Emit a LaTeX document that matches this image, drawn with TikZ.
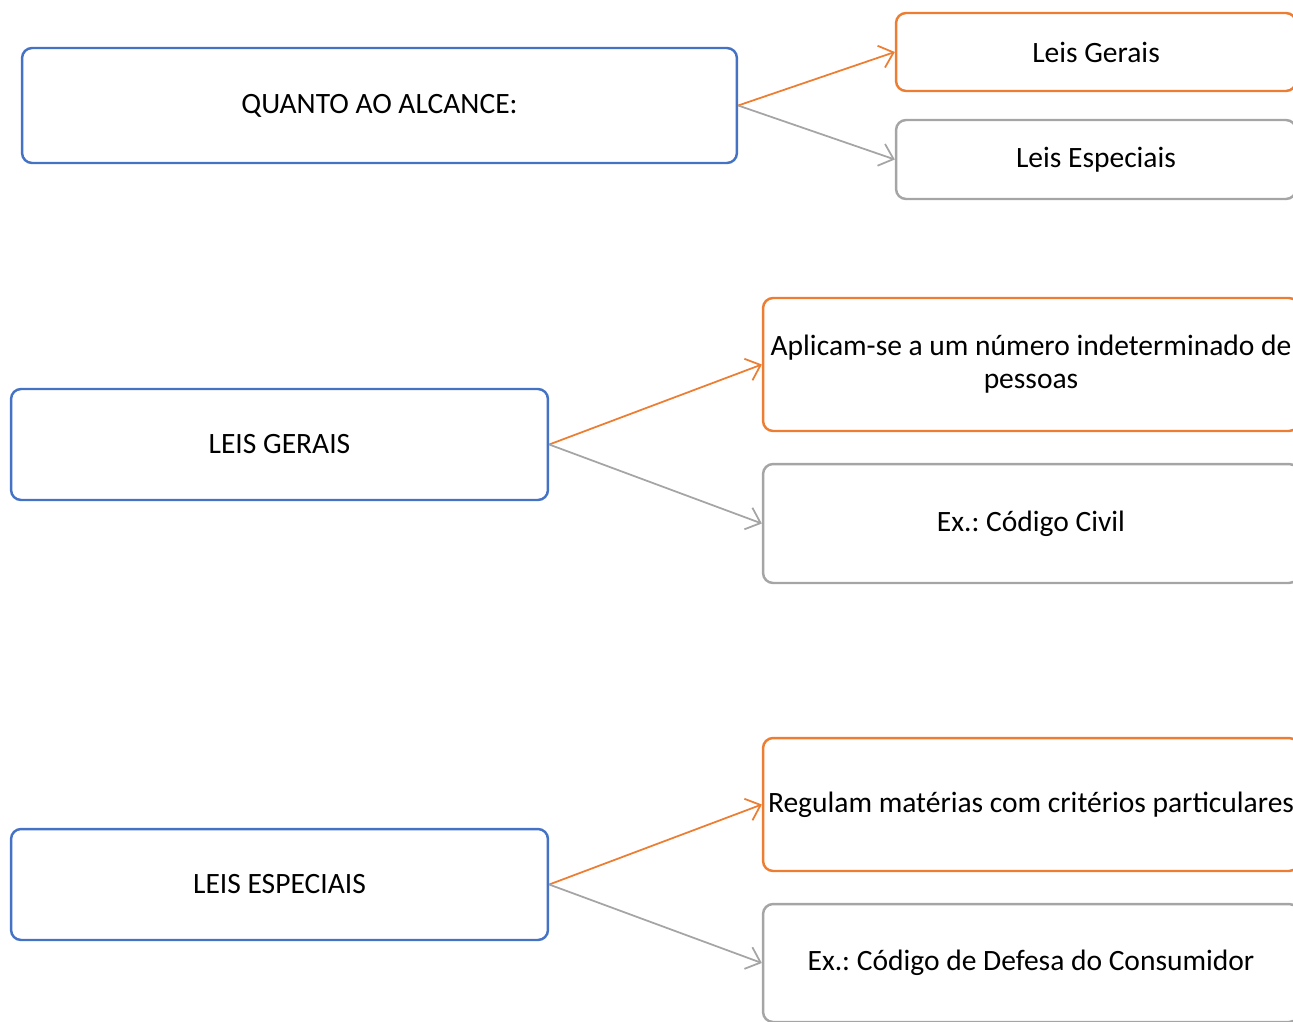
\documentclass[tikz,border=0pt]{standalone}
\usepackage{fontspec}
\setmainfont{Carlito}
\usetikzlibrary{positioning,arrows.meta}

\definecolor{boxblue}{HTML}{4472C4}
\definecolor{boxorange}{HTML}{ED7D31}
\definecolor{boxgray}{HTML}{A5A5A5}

\frenchspacing

\begin{document}
\begin{tikzpicture}[x=0.02cm, y=-0.02cm,
    box/.style={draw, line width=1.4pt, rounded corners=0.2cm, inner sep=2pt,
        align=center, font=\fontsize{16.8}{18.7}\selectfont},
    mainbox/.style={box, draw=boxblue},
    yesbox/.style={box, draw=boxorange},
    greybox/.style={box, draw=boxgray},
    link/.style={line width=1pt, -{Straight Barb[length=2.6mm, width=4.6mm]}}]
    \useasboundingbox (0,0) rectangle (1293,1021);

    % Quanto ao alcance
    \node[mainbox, minimum width=14.3cm, minimum height=2.3cm] (alcance) at (379.5,105.5) {QUANTO AO ALCANCE:};
    \node[yesbox, minimum width=8cm, minimum height=1.56cm] (gerais) at (1096,52) {Leis Gerais};
    \node[greybox, minimum width=8cm, minimum height=1.58cm] (especiais) at (1096,159.5) {Leis Especiais};

    % Leis gerais
    \node[mainbox, minimum width=10.74cm, minimum height=2.22cm] (lg) at (279.5,444.5) {LEIS GERAIS};
    \node[yesbox, minimum width=10.72cm, minimum height=2.66cm] (lgdef) at (1031,364.5) {Aplicam-se a um número indeterminado de\\pessoas};
    \node[greybox, minimum width=10.72cm, minimum height=2.38cm] (lgex) at (1031,523.5) {Ex.: Código Civil};

    % Leis especiais
    \node[mainbox, minimum width=10.74cm, minimum height=2.22cm] (le) at (279.5,884.5) {LEIS ESPECIAIS};
    \node[yesbox, minimum width=10.72cm, minimum height=2.66cm] (ledef) at (1031,804.5) {Regulam matérias com critérios particulares};
    \node[greybox, minimum width=10.72cm, minimum height=2.36cm] (leex) at (1031,963) {Ex.: Código de Defesa do Consumidor};

    % Arrows
    \draw[link, boxorange] (alcance.east) -- (gerais.west);
    \draw[link, boxgray] (alcance.east) -- (especiais.west);
    \draw[link, boxorange] (lg.east) -- (lgdef.west);
    \draw[link, boxgray] (lg.east) -- (lgex.west);
    \draw[link, boxorange] (le.east) -- (ledef.west);
    \draw[link, boxgray] (le.east) -- (leex.west);
\end{tikzpicture}
\end{document}
